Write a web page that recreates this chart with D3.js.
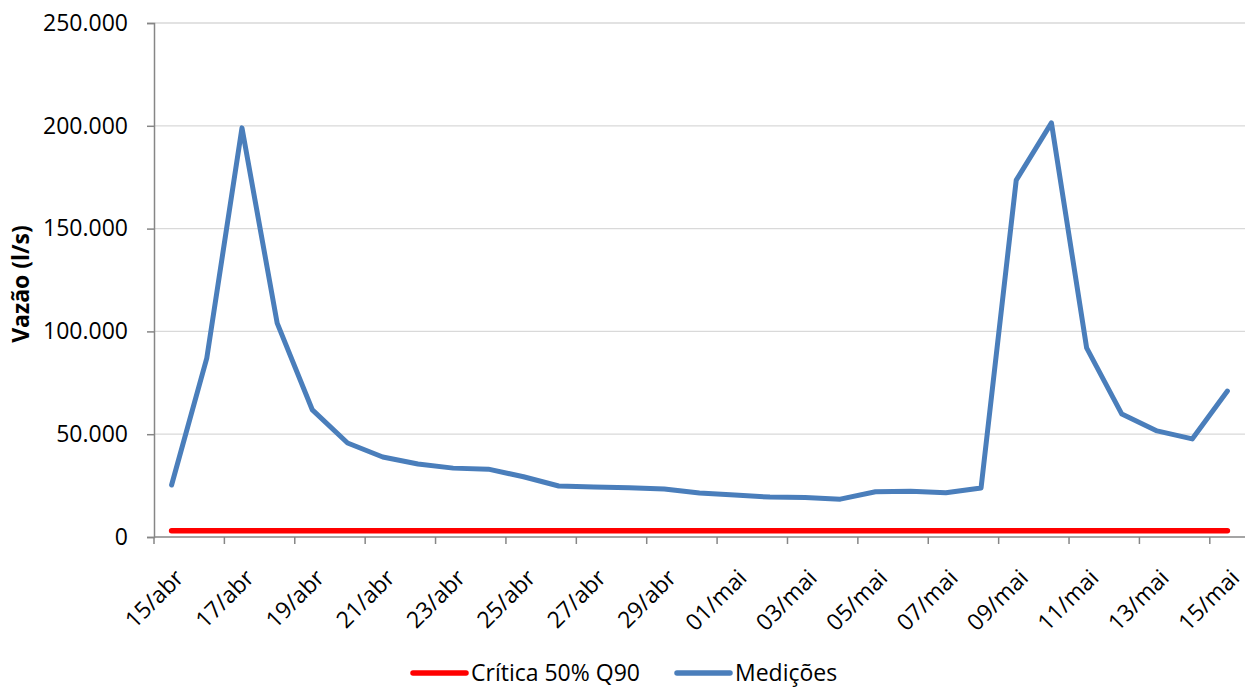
<!DOCTYPE html>
<html>
<head>
<meta charset="utf-8">
<script src="https://cdn.jsdelivr.net/npm/d3@7"></script>
<style>
  body { margin: 0; background: #fff; }
  svg, svg text { font-family: "Open Sans", "Noto Sans", sans-serif; }
</style>
</head>
<body>
<div id="chart"></div>
<script>
// Days on the category axis
const dias = [
  '15/abr', '16/abr', '17/abr', '18/abr', '19/abr', '20/abr', '21/abr', '22/abr',
  '23/abr', '24/abr', '25/abr', '26/abr', '27/abr', '28/abr', '29/abr', '30/abr',
  '01/mai', '02/mai', '03/mai', '04/mai', '05/mai', '06/mai', '07/mai', '08/mai',
  '09/mai', '10/mai', '11/mai', '12/mai', '13/mai', '14/mai', '15/mai'
];

// Measured flow (l/s)
const medicoes = [
  25300, 87000, 199000, 104000, 61800, 45700, 38900, 35500,
  33500, 33000, 29300, 24800, 24300, 24000, 23300, 21400,
  20400, 19400, 19200, 18400, 22000, 22200, 21500, 23800,
  173600, 201400, 92000, 59800, 51600, 47700, 71000
];

// Critical flow (50% Q90), constant
const critica = dias.map(() => 3000);

const yTicks = [0, 50000, 100000, 150000, 200000, 250000];

const W = 1246, H = 688;
const margin = { top: 23, right: 1, bottom: 151, left: 154 };
const plotW = W - margin.left - margin.right;
const plotH = H - margin.top - margin.bottom;

const svg = d3.select('#chart').append('svg')
  .attr('width', W)
  .attr('height', H);

const g = svg.append('g').attr('transform', `translate(${margin.left},${margin.top})`);

const x = d3.scaleBand().domain(dias).range([0, plotW]).padding(0);
const y = d3.scaleLinear().domain([0, 250000]).range([plotH, 0]);

const fmt = v => v === 0 ? '0' : d3.format(',')(v).replace(/,/g, '.');

// Gridlines
g.selectAll('.grid')
  .data(yTicks.filter(t => t > 0))
  .enter().append('line')
  .attr('x1', 0).attr('x2', plotW)
  .attr('y1', d => y(d)).attr('y2', d => y(d))
  .style('stroke', '#d9d9d9')
  .style('stroke-width', 1.3);

// Y axis
const yAxis = g.append('g')
  .call(d3.axisLeft(y).tickValues(yTicks).tickFormat(fmt).tickSize(7).tickPadding(19))
  .attr('font-family', null);
yAxis.select('.domain').style('stroke', '#868686').style('stroke-width', 1.5);
yAxis.selectAll('.tick line').style('stroke', '#868686').style('stroke-width', 1.5);
yAxis.selectAll('.tick text')
  .style('font-size', '23px')
  .style('fill', '#000');

// X axis: ticks every two days at band edges, labels at band centers
const labelled = dias.filter((d, i) => i % 2 === 0);
const xAxis = g.append('g').attr('transform', `translate(0,${plotH})`);
xAxis.append('line')
  .attr('x1', 0).attr('x2', plotW)
  .style('stroke', '#868686').style('stroke-width', 1.5);
xAxis.selectAll('.xtick')
  .data(labelled)
  .enter().append('line')
  .attr('x1', d => x(d)).attr('x2', d => x(d))
  .attr('y1', 0).attr('y2', 7)
  .style('stroke', '#868686').style('stroke-width', 1.5);
xAxis.selectAll('.xlabel')
  .data(labelled)
  .enter().append('text')
  .attr('transform', d => `translate(${x(d) + x.bandwidth() / 2 + 2},${31}) rotate(-45)`)
  .attr('text-anchor', 'end')
  .attr('dy', '0.7em')
  .style('font-size', '23px')
  .style('fill', '#000')
  .text(d => d);

// Y axis title
svg.append('text')
  .attr('transform', `translate(21,284) rotate(-90)`)
  .attr('text-anchor', 'middle')
  .attr('dy', '0.35em')
  .style('font-size', '23px')
  .style('font-weight', 'bold')
  .style('fill', '#000')
  .text('Vazão (l/s)');

// Lines
const line = d3.line()
  .x((d, i) => x(dias[i]) + x.bandwidth() / 2)
  .y(d => y(d));

g.append('path')
  .datum(critica)
  .attr('d', line)
  .style('fill', 'none')
  .style('stroke', '#ff0000')
  .style('stroke-width', 5.5)
  .style('stroke-linecap', 'round');

g.append('path')
  .datum(medicoes)
  .attr('d', line)
  .style('fill', 'none')
  .style('stroke', '#4a7ebb')
  .style('stroke-width', 5)
  .style('stroke-linecap', 'round')
  .style('stroke-linejoin', 'round');

// Legend
const legendItems = [
  { name: 'Crítica 50% Q90', color: '#ff0000', x: 413 },
  { name: 'Medições', color: '#4a7ebb', x: 677 }
];
const legend = svg.selectAll('.legend')
  .data(legendItems)
  .enter().append('g')
  .attr('transform', d => `translate(${d.x},673)`);
legend.append('line')
  .attr('x1', 0).attr('x2', 53)
  .style('stroke', d => d.color)
  .style('stroke-width', 5.5)
  .style('stroke-linecap', 'round');
legend.append('text')
  .attr('x', 58)
  .attr('dy', '0.35em')
  .style('font-size', '23px')
  .style('fill', '#000')
  .text(d => d.name);
</script>
</body>
</html>
